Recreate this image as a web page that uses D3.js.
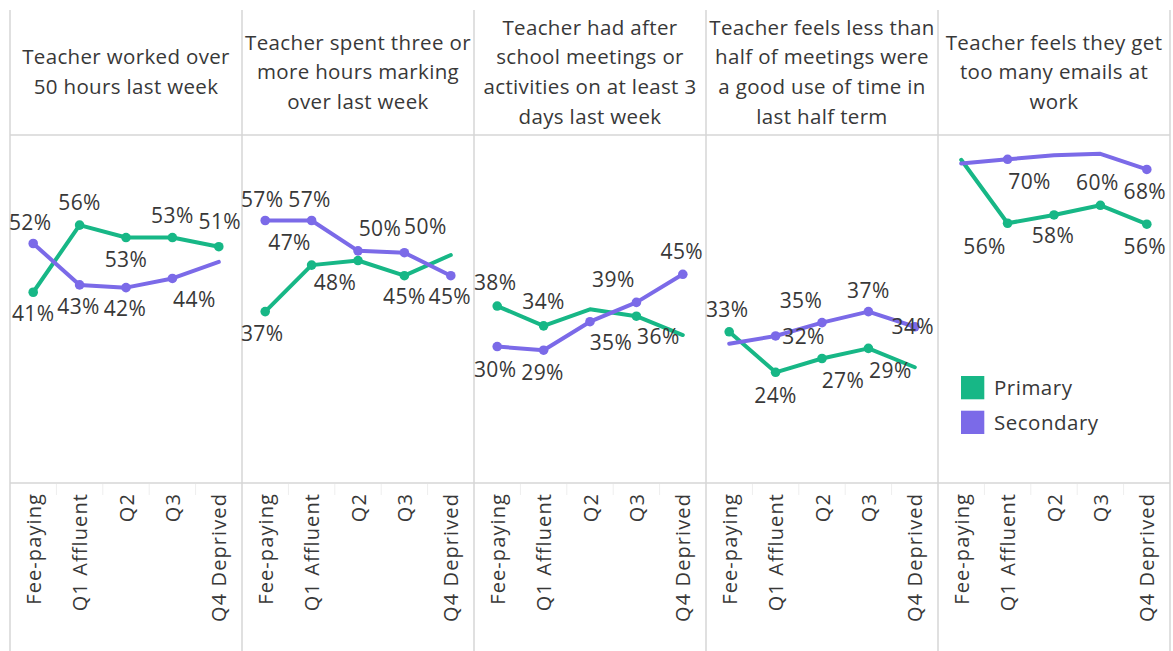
<!DOCTYPE html>
<html><head><meta charset="utf-8">
<script src="https://cdn.jsdelivr.net/npm/d3@7"></script>
<style>
html,body{margin:0;padding:0;background:#fff;}
svg{display:block;font-family:"Open Sans",sans-serif;}
</style></head>
<body><svg id="chart" width="1173" height="651"></svg>
<script>
// ---- data ----
const categories = ["Fee-paying","Q1 Affluent","Q2","Q3","Q4 Deprived"];
const seriesNames = ["Primary","Secondary"];
const titleLines = [
  ["Teacher worked over","50 hours last week"],
  ["Teacher spent three or","more hours marking","over last week"],
  ["Teacher had after","school meetings or","activities on at least 3","days last week"],
  ["Teacher feels less than","half of meetings were","a good use of time in","last half term"],
  ["Teacher feels they get","too many emails at","work"]
];
const primary = [
  [0.414,0.560,0.533,0.533,0.513],
  [0.372,0.473,0.483,0.450,0.495],
  [0.384,0.341,0.377,0.362,0.321],
  [0.328,0.240,0.270,0.292,0.251],
  [0.702,0.564,0.582,0.603,0.562]
];
const secondary = [
  [0.520,0.430,0.424,0.444,0.480],
  [0.570,0.570,0.504,0.500,0.450],
  [0.296,0.288,0.350,0.392,0.453],
  [0.302,0.319,0.348,0.372,0.339],
  [0.694,0.703,0.712,0.715,0.681]
];

// ---- label layout (offsets from point; null = unlabeled, no marker) ----
const primaryLabelOffsets = [
  [[0,21],[0,-22],[0,22],[0,-22],[1,-25]],
  [[-3,22],[-22,-22],[-23,22],[0,21],null],
  [[-2,-23],[0,-24],null,[22,20],null],
  [[-2,-22],[0,23],[21,22],[22,22],null],
  [null,[-23,23],[-1,21],[-3,-23],[-2,22]]
];
const secondaryLabelOffsets = [
  [[-3,-21],[-1,22],[-1,21],[22,21],null],
  [[-3,-21],[-2,-21],[22,-22],[21,-26],[-1,21]],
  [[-2,23],[-1,22],[21,21],[-23,-23],[-1,-23]],
  [null,[28,1],[-21,-22],[0,-21],[-2,0]],
  [null,[22,22],null,null,[-2,22]]
];

const colors = {Primary:"#17b786", Secondary:"#7b6ae8"};
const textColor = "#383838";
const gridColor = "#d6d6d6";

const svg = d3.select("#chart");
const W = 1173, H = 651;
const leftEdge = 10, rightEdge = 1170, topEdge = 10, headerBottom = 135, plotBottom = 483;

const panelScale = d3.scaleBand().domain(d3.range(titleLines.length)).range([leftEdge,rightEdge]);
const pw = panelScale.bandwidth();
const x = d3.scalePoint().domain(categories).range([0,pw]).padding(0.5);
const y = d3.scaleLinear().domain([0,0.76]).range([482.7,133.1]);
const fmt = d3.format(".0%");

// grid / borders
const g0 = svg.append("g");
g0.append("line").attr("x1",leftEdge).attr("x2",rightEdge).attr("y1",headerBottom).attr("y2",headerBottom)
  .attr("stroke",gridColor).attr("stroke-width",1.5);
g0.append("line").attr("x1",leftEdge).attr("x2",rightEdge).attr("y1",plotBottom).attr("y2",plotBottom)
  .attr("stroke",gridColor).attr("stroke-width",1.5);
const bounds = d3.range(titleLines.length).map(i=>panelScale(i)).concat([rightEdge]);
g0.selectAll(".vb").data(bounds).join("line")
  .attr("x1",d=>d).attr("x2",d=>d).attr("y1",topEdge).attr("y2",H)
  .attr("stroke",gridColor).attr("stroke-width",1.5);

const line = d3.line().x(d=>x(d.cat)).y(d=>y(d.v));

titleLines.forEach((lines,pi)=>{
  const g = svg.append("g").attr("transform",`translate(${panelScale(pi)},0)`);
  // title
  const lh = 29.6, cy = 72;
  const t = g.append("text").attr("text-anchor","middle").attr("fill",textColor)
    .style("font-size","20.5px").style("letter-spacing","0.35px");
  lines.forEach((ln,li)=>{
    t.append("tspan").attr("x",pw/2)
     .attr("y", cy + (li-(lines.length-1)/2)*lh)
     .attr("dy","0.35em").text(ln);
  });
  // faint band ticks
  const bw = pw/categories.length;
  g.selectAll(".bt").data(d3.range(1,categories.length)).join("line")
    .attr("x1",d=>d*bw).attr("x2",d=>d*bw).attr("y1",plotBottom+1).attr("y2",plotBottom+12)
    .attr("stroke","#eeeeee").attr("stroke-width",1);
  // axis
  const ax = g.append("g").attr("transform",`translate(0,${plotBottom})`)
    .call(d3.axisBottom(x).tickSize(0).tickPadding(0));
  ax.select(".domain").remove();
  ax.selectAll("text").attr("transform","rotate(-90)")
    .attr("text-anchor","end").attr("x",-10).attr("y",0).attr("dy","0.35em")
    .attr("fill",textColor).style("font-size","20px").style("letter-spacing","1.1px")
    .style("font-family","'Open Sans',sans-serif");

  const series = [
    {name:"Primary", vals:primary[pi], offs:primaryLabelOffsets[pi]},
    {name:"Secondary", vals:secondary[pi], offs:secondaryLabelOffsets[pi]}
  ];
  series.forEach(s=>{
    const pts = s.vals.map((v,i)=>({cat:categories[i], v, off:s.offs[i]}));
    g.append("path").datum(pts).attr("d",line).attr("fill","none")
      .attr("stroke",colors[s.name]).attr("stroke-width",4)
      .attr("stroke-linejoin","round").attr("stroke-linecap","round");
    g.selectAll(null).data(pts.filter(p=>p.off)).join("circle")
      .attr("cx",d=>x(d.cat)).attr("cy",d=>y(d.v)).attr("r",4.8)
      .attr("fill",colors[s.name]);
  });
  series.forEach(s=>{
    const pts = s.vals.map((v,i)=>({cat:categories[i], v, off:s.offs[i]}));
    g.selectAll(null).data(pts.filter(p=>p.off)).join("text")
      .attr("x",d=>x(d.cat)+d.off[0]).attr("y",d=>y(d.v)+d.off[1])
      .attr("dy","0.35em").attr("text-anchor","middle")
      .attr("fill",textColor).style("font-size","21px").style("letter-spacing","0.4px")
      .text(d=>fmt(d.v));
  });
});

// legend in last panel
const lg = svg.append("g").attr("transform",`translate(${panelScale(titleLines.length-1)},0)`);
seriesNames.forEach((n,i)=>{
  const yy = 376 + i*34.7;
  lg.append("rect").attr("x",23).attr("y",yy).attr("width",23.3).attr("height",23.3).attr("fill",colors[n]);
  lg.append("text").attr("x",56).attr("y",yy+11.7).attr("dy","0.35em")
    .attr("fill",textColor).style("font-size","20.5px").style("letter-spacing","0.5px").text(n);
});
</script></body></html>
